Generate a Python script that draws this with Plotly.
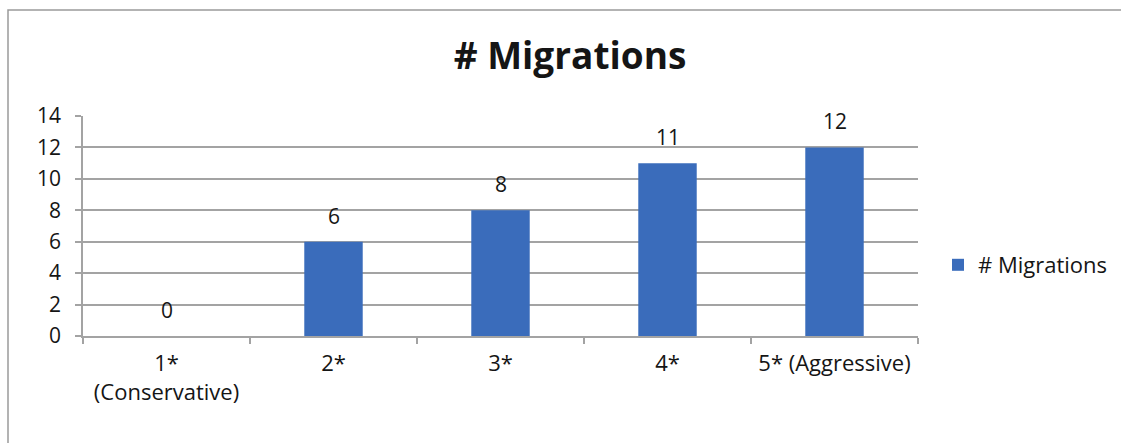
import plotly.graph_objects as go

categories = ["1*<br>(Conservative)", "2*", "3*", "4*", "5* (Aggressive)"]
values = [0, 6, 8, 11, 12]
series_name = "# Migrations"
y_ticks = [0, 2, 4, 6, 8, 10, 12, 14]

W, H = 1121, 443
ml, mr, mt, mb = 83, 203, 116, 107
pw = W - ml - mr
ph = H - mt - mb

FONT = "Open Sans"
grid = "#a3a3a3"
TXT = "#151515"

fig = go.Figure()
fig.add_trace(go.Bar(
    x=categories, y=values, name=series_name,
    marker=dict(color="#3a6cbb", line=dict(width=0)),
    showlegend=True,
))

for c, v in zip(categories, values):
    fig.add_annotation(x=c, y=v, text=str(v), showarrow=False,
                       yanchor="middle", yshift=26,
                       font=dict(family=FONT, size=21, color=TXT))

def px_x(p):
    return (p - ml) / pw
def px_y(p):
    return (H - mb - p) / ph

# chart area frame
fig.add_shape(type="rect", xref="paper", yref="paper",
              x0=px_x(8), x1=px_x(1140), y0=px_y(460), y1=px_y(10),
              line=dict(color="#9a9a9a", width=1.5), fillcolor="rgba(0,0,0,0)",
              layer="below")

fig.update_layout(
    width=W, height=H,
    margin=dict(l=ml, r=mr, t=mt, b=mb, autoexpand=False),
    paper_bgcolor="white", plot_bgcolor="white",
    bargap=0.65,
    title=dict(text="<b># Migrations</b>", x=570 / W, xanchor="center",
               y=1 - 56 / H, yanchor="middle", yref="container",
               font=dict(family=FONT, size=37, color=TXT)),
    legend=dict(x=px_x(938), xanchor="left", y=px_y(265), yanchor="middle",
                font=dict(family=FONT, size=22, color=TXT),
                bgcolor="rgba(0,0,0,0)", itemwidth=30),
    font=dict(family=FONT, color=TXT),
)

fig.update_xaxes(
    type="category", tickson="boundaries", ticks="outside", ticklen=6,
    tickcolor=grid, tickwidth=1.5,
    showline=True, linecolor=grid, linewidth=1.5,
    showgrid=False, tickfont=dict(family=FONT, size=22, color=TXT),
    ticklabelstandoff=7,
)
fig.update_yaxes(
    range=[0, 14], tickvals=y_ticks, ticks="outside", ticklen=6,
    tickcolor=grid, tickwidth=1.5,
    showline=True, linecolor=grid, linewidth=1.5,
    showgrid=True, gridcolor=grid, gridwidth=1.5, zeroline=False,
    tickfont=dict(family=FONT, size=21, color=TXT),
    ticklabelstandoff=10,
)

fig.write_html("out.html", config={"displayModeBar": False})

with open("out.html", "r", encoding="utf-8") as f:
    html = f.read()
html = html.replace("<body>", '<body style="margin:0;padding:0;">', 1)
with open("out.html", "w", encoding="utf-8") as f:
    f.write(html)
